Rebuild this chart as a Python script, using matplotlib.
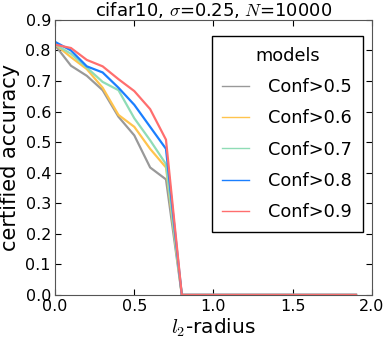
import matplotlib
matplotlib.use("Agg")
import matplotlib.pyplot as plt

plt.rcParams['mathtext.fontset'] = 'cm'
plt.rcParams['font.family'] = 'DejaVu Sans'

radius = [0.0, 0.1, 0.2, 0.3, 0.4, 0.5, 0.6, 0.7, 0.8, 0.9, 1.0,
          1.1, 1.2, 1.3, 1.4, 1.5, 1.6, 1.7, 1.8, 1.9]
tail = [0.0] * 12

conf05 = [0.817, 0.750, 0.717, 0.670, 0.583, 0.522, 0.417, 0.378] + tail
conf06 = [0.820, 0.778, 0.739, 0.678, 0.589, 0.550, 0.478, 0.417] + tail
conf07 = [0.820, 0.789, 0.744, 0.697, 0.670, 0.578, 0.506, 0.428] + tail
conf08 = [0.828, 0.800, 0.748, 0.728, 0.678, 0.622, 0.550, 0.478] + tail
conf09 = [0.819, 0.808, 0.769, 0.748, 0.706, 0.667, 0.608, 0.508] + tail

labels = ["Conf>0.5", "Conf>0.6", "Conf>0.7", "Conf>0.8", "Conf>0.9"]
colors = ["#999999", "#ffc44d", "#8fdcb6", "#1a7fff", "#ff6e6e"]

fig = plt.figure(figsize=(3.91, 3.49), dpi=100)
ax = fig.add_axes([0.141, 0.155, 0.81, 0.788])

for ys, lab, c in zip([conf05, conf06, conf07, conf08, conf09], labels, colors):
    ax.plot(radius, ys, color=c, lw=1.6, label=lab)

ax.set_xlim(0, 2.0)
ax.set_ylim(0, 0.9)
ax.set_xticks([0.0, 0.5, 1.0, 1.5, 2.0])
ax.set_yticks([i / 10 for i in range(10)])
ax.tick_params(direction='in', top=True, right=True, labelsize=11.5, length=4, pad=3)
for s in ax.spines.values():
    s.set_color('#555555')

ax.set_title(r"cifar10, $\sigma$=0.25, $N$=10000", fontsize=13, pad=3)
ax.set_xlabel(r"$l_2$-radius", fontsize=14.5, labelpad=2)
ax.set_ylabel("certified accuracy", fontsize=15, labelpad=4)

leg = ax.legend(title="models", loc='upper right', bbox_to_anchor=(0.972, 0.942),
                borderaxespad=0, fontsize=12.8, title_fontsize=12.8, fancybox=False,
                handlelength=1.5, handletextpad=1.1, labelspacing=0.75,
                borderpad=0.6, framealpha=1)
leg.get_frame().set_edgecolor('black')
for h in leg.get_lines():
    h.set_linewidth(1.0)

fig.savefig("out.png", dpi=100)
